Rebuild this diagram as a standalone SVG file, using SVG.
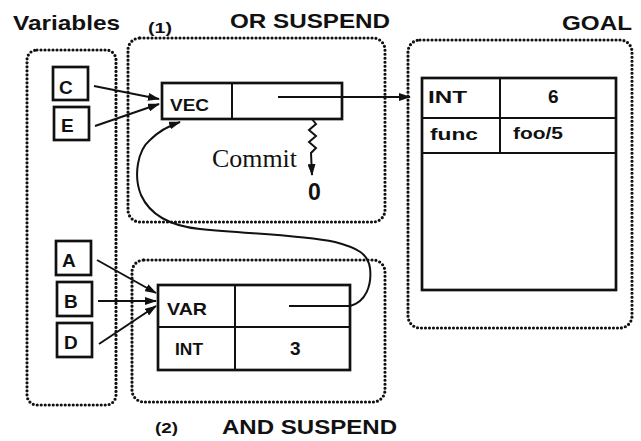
<svg xmlns="http://www.w3.org/2000/svg" width="641" height="441" viewBox="0 0 641 441">
<style>
.dot{fill:none;stroke:#111;stroke-width:3.2;stroke-dasharray:0 4;stroke-linecap:round}
.box{fill:#fff;stroke:#111;stroke-width:2.7}
.ln{fill:none;stroke:#111;stroke-width:2}
.t{font-family:"Liberation Sans",Arial,sans-serif;font-weight:bold;fill:#111}
.h{font-size:21px}
.s{font-size:15px}
.c{font-size:17px}
.L{font-size:19px}
</style>
<defs>
<marker id="ah" viewBox="0 0 12 8" refX="11" refY="4" markerWidth="12" markerHeight="8" markerUnits="userSpaceOnUse" orient="auto">
<path d="M0,0 L12,4 L0,8 z" fill="#111"/>
</marker>
</defs>
<rect width="641" height="441" fill="#fff"/>
<g id="titles">
<text class="t h" x="13" y="30" textLength="107" lengthAdjust="spacingAndGlyphs">Variables</text>
<text class="t s" x="148" y="33" textLength="24" lengthAdjust="spacingAndGlyphs">(1)</text>
<text class="t h" x="230" y="28" textLength="160" lengthAdjust="spacingAndGlyphs">OR SUSPEND</text>
<text class="t h" x="562" y="30" textLength="70" lengthAdjust="spacingAndGlyphs">GOAL</text>
<text class="t s" x="155" y="433" textLength="23" lengthAdjust="spacingAndGlyphs">(2)</text>
<text class="t h" x="222" y="434" textLength="175" lengthAdjust="spacingAndGlyphs">AND SUSPEND</text>
</g>
<g id="variables">
<rect class="dot" x="27" y="50" width="89" height="355" rx="10"/>
<g id="var-C"><rect class="box" x="53" y="67" width="35" height="33"/><text class="t L" x="59" y="94">C</text></g>
<g id="var-E"><rect class="box" x="54" y="107" width="35" height="33"/><text class="t L" x="61" y="132">E</text></g>
<g id="var-A"><rect class="box" x="56" y="241" width="35" height="34"/><text class="t L" x="62" y="267">A</text></g>
<g id="var-B"><rect class="box" x="57" y="282" width="35" height="34"/><text class="t L" x="64" y="308">B</text></g>
<g id="var-D"><rect class="box" x="57" y="323" width="35" height="34"/><text class="t L" x="64" y="349">D</text></g>
</g>
<g id="or-suspend">
<rect class="dot" x="128" y="38" width="257" height="184" rx="12"/>
<rect class="box" x="162" y="83" width="180" height="36"/>
<line class="ln" x1="232" y1="83" x2="232" y2="119" stroke-width="2.7"/>
<text class="t c" x="170" y="111" textLength="39" lengthAdjust="spacingAndGlyphs">VEC</text>
<text x="212" y="167" font-family="'Liberation Serif','Times New Roman',serif" font-size="25" fill="#111" textLength="85" lengthAdjust="spacingAndGlyphs">Commit</text>
<text class="t" x="308" y="200" font-size="23">0</text>
</g>
<g id="and-suspend">
<rect class="dot" x="132" y="260" width="253" height="142" rx="12"/>
<rect class="box" x="158" y="285" width="192" height="85"/>
<line class="ln" x1="158" y1="327" x2="350" y2="327" stroke-width="2.7"/>
<line class="ln" x1="235" y1="285" x2="235" y2="370" stroke-width="2.7"/>
<text class="t c" x="167" y="315" textLength="40" lengthAdjust="spacingAndGlyphs">VAR</text>
<text class="t c" x="175" y="355" textLength="28" lengthAdjust="spacingAndGlyphs">INT</text>
<text class="t L" x="290" y="355">3</text>
</g>
<g id="goal">
<rect class="dot" x="408" y="40" width="224" height="288" rx="12"/>
<rect class="box" x="422" y="78" width="194" height="212"/>
<line class="ln" x1="422" y1="118" x2="616" y2="118" stroke-width="2.7"/>
<line class="ln" x1="422" y1="153" x2="616" y2="153" stroke-width="2.7"/>
<line class="ln" x1="500" y1="78" x2="500" y2="153" stroke-width="2.7"/>
<text class="t c" x="428" y="103" textLength="39" lengthAdjust="spacingAndGlyphs">INT</text>
<text class="t L" x="548" y="103">6</text>
<text class="t c" x="430" y="140" textLength="48" lengthAdjust="spacingAndGlyphs">func</text>
<text class="t c" x="513" y="139" textLength="50" lengthAdjust="spacingAndGlyphs">foo/5</text>
</g>
<g id="connectors">
<line class="ln" x1="94" y1="86" x2="159" y2="99" marker-end="url(#ah)"/>
<line class="ln" x1="95" y1="126" x2="159" y2="104" marker-end="url(#ah)"/>
<line class="ln" x1="97" y1="260" x2="156" y2="293" marker-end="url(#ah)"/>
<line class="ln" x1="98" y1="301" x2="156" y2="301" marker-end="url(#ah)"/>
<line class="ln" x1="99" y1="344" x2="156" y2="306" marker-end="url(#ah)"/>
<line class="ln" x1="278" y1="97" x2="410" y2="97" marker-end="url(#ah)"/>
<path class="ln" d="M312,119 L316,124 L309,130 L316,136 L309,142 L316,148 L311,153 L312,175" marker-end="url(#ah)"/>
<path class="ln" d="M289,306 L350,306 C366,302 372,285 370,268 C368,254 358,248 335,242 C300,235 250,234 200,229 C170,226 150,215 141,195 C133,175 138,150 150,140 C158,132 168,126 180,122" marker-end="url(#ah)"/>
</g>
</svg>
